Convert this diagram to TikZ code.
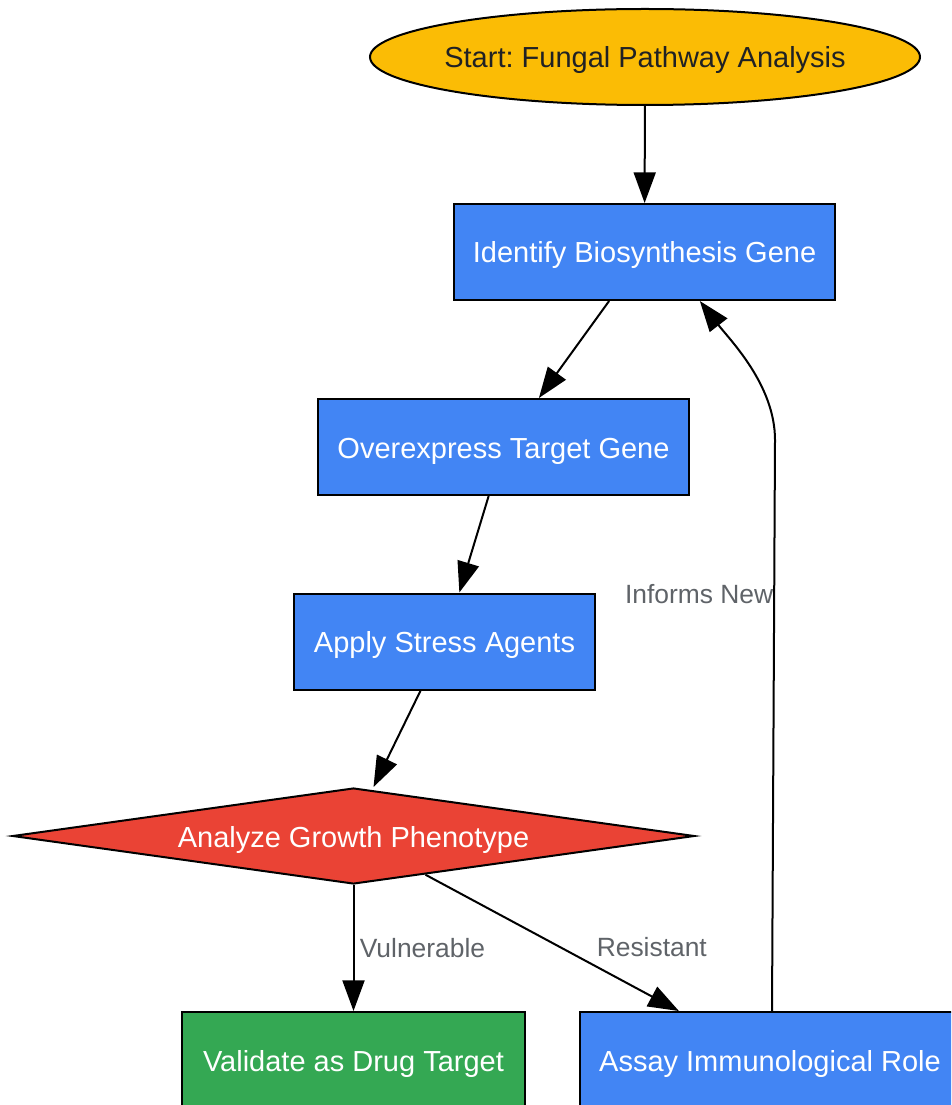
\documentclass[tikz,border=0pt]{standalone}
\usepackage{fontspec}
\setmainfont{Liberation Sans}
\frenchspacing
\usetikzlibrary{shapes.geometric}
\usetikzlibrary{arrows.meta}
\definecolor{gyellow}{HTML}{FBBC05}
\definecolor{gblue}{HTML}{4285F4}
\definecolor{gred}{HTML}{EA4335}
\definecolor{ggreen}{HTML}{34A853}
\definecolor{labelgray}{HTML}{5F6368}
\definecolor{darktext}{HTML}{202124}

\begin{document}
\begin{tikzpicture}[x=0.75pt, y=-0.75pt,
                every node/.style = {font=\fontsize{21.75}{26}\selectfont},
                boxtext/.style = {text height=18pt, text depth=1.5pt},
                procbox/.style = {draw, rectangle, boxtext, line width=1.5pt, fill=gblue, text=white, minimum height=72pt},
                flow/.style = {-{Triangle[length=23pt,width=16.5pt]}, line width=1.5pt},
                edgelabel/.style = {font=\fontsize{19.8}{24}\selectfont, text=labelgray, inner sep=0pt}]
                \useasboundingbox (0,0) rectangle (951,1105);
                \clip (0,0) rectangle (951,1105);
                \node[ellipse, draw, boxtext, line width=1.5pt, fill=gyellow, text=darktext,
                      minimum width=412.5pt, minimum height=72pt, inner xsep=-8pt, inner ysep=0pt] (start) at (645,57) {Start: Fungal Pathway Analysis};
                \node[procbox, minimum width=285.75pt] (ident) at (644.5,252) {Identify Biosynthesis Gene};
                \node[procbox, minimum width=278.25pt] (overexp) at (503.5,447) {Overexpress Target Gene};
                \node[procbox, minimum width=225.75pt] (stress) at (444.5,641.5) {Apply Stress Agents};
                \node[diamond, aspect=7.2, draw, boxtext, line width=1.5pt, fill=gred, text=white,
                      minimum width=511.5pt, minimum height=72pt, inner sep=0pt] (growth) at (353.5,836) {Analyze Growth Phenotype};
                \node[procbox, fill=ggreen, minimum width=257.25pt] (valid) at (353.5,1060) {Validate as Drug Target};
                \node[procbox, minimum width=285pt] (assay) at (770,1060) {Assay Immunological Role};
                \coordinate (turn) at (775,440);
                \draw[flow] (start) -- (ident);
                \draw[flow] (ident) -- (overexp);
                \draw[flow] (overexp) -- (stress);
                \draw[flow] (stress) -- ([xshift=15pt]growth.north);
                \draw[flow] (growth) -- node[edgelabel, pos=0.5, right=4pt] {Vulnerable} (valid);
                \draw[flow] (growth) -- node[edgelabel, pos=0.53, right=27pt] {Resistant} (assay);
                \draw[flow] ([xshift=1.5pt]assay.north) -- node[edgelabel, pos=0.73, left] {Informs New} (turn)
                    .. controls (775,385) and (730,340) .. ([xshift=41.5pt]ident.south);
            \end{tikzpicture}
\end{document}
